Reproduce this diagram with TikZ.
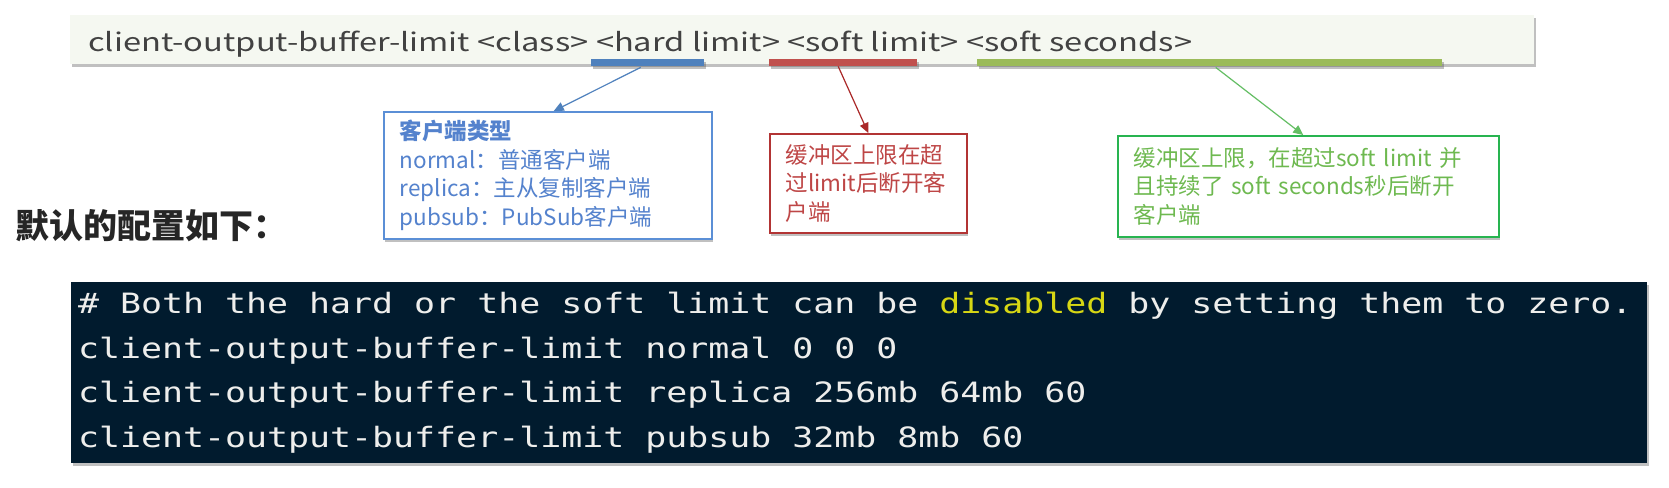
\documentclass[tikz,border=0pt]{standalone}
\usepackage{fontspec}
\usepackage{graphicx}
\usetikzlibrary{arrows.meta,shadows,calc}
\newfontfamily\cjk{Noto Sans CJK SC}
\newfontfamily\codefont[FakeStretch=1.246]{DejaVu Sans Mono}
\definecolor{topbg}{RGB}{245,248,241}
\definecolor{topgray}{RGB}{66,66,66}
\definecolor{barblue}{RGB}{79,129,189}
\definecolor{barred}{RGB}{192,80,77}
\definecolor{bargreen}{RGB}{155,187,89}
\definecolor{bluebd}{RGB}{91,143,214}
\definecolor{bluetx}{RGB}{84,130,205}
\definecolor{redbd}{RGB}{178,52,52}
\definecolor{redtx}{RGB}{190,70,70}
\definecolor{greenbd}{RGB}{40,180,80}
\definecolor{greentx}{RGB}{110,185,80}
\definecolor{arrblue}{RGB}{79,129,189}
\definecolor{arrred}{RGB}{170,40,40}
\definecolor{arrgreen}{RGB}{100,190,100}
\definecolor{codebg}{RGB}{1,27,46}
\definecolor{codefg}{RGB}{238,238,236}
\definecolor{dis}{RGB}{215,215,20}
\begin{document}
\begin{tikzpicture}[x=1pt,y=-1pt,
  shad/.style={drop shadow={shadow xshift=1.5pt,shadow yshift=-3pt,opacity=.35,fill=black!70}},
  topbox/.style={fill=topbg,draw=none,inner sep=0,anchor=north west,shad},
  bar/.style={draw=none,inner sep=0,minimum height=7,anchor=north west,shad},
  notebox/.style={fill=white,line width=1.5pt,align=left,inner xsep=16,inner ysep=0,anchor=north west,
    font=\cjk\fontsize{22.5}{28.5}\selectfont,shad},
  arr/.style={line width=1.2pt,-{Triangle[length=10pt,width=9pt]}},
  codebox/.style={fill=codebg,draw=none,inner sep=0,anchor=north west,shad},
  codeline/.style={anchor=base west,inner sep=0,text=codefg,font=\codefont\fontsize{28}{28}\selectfont}]
\useasboundingbox[fill=white] (0,0) rectangle (1669,487);

% command line box
\node[topbox,minimum width=1464,minimum height=49] (cmd) at (70,15) {};
\node[anchor=base west,inner sep=0,text=topgray] (cmdtext) at (88,52)
  {\resizebox{1104pt}{20.5pt}{\cjk client-output-buffer-limit <class> <hard limit> <soft limit> <soft seconds>}};

% underline bars
\node[bar,fill=barblue,minimum width=113] (hb) at (591,59) {};
\node[bar,fill=barred,minimum width=148] (sb) at (769,59) {};
\node[bar,fill=bargreen,minimum width=465] (gb) at (977,59) {};

% note boxes
\node[notebox,draw=bluebd,text=bluetx,text width=296,minimum height=127] (cls) at (383,111)
  {\mbox{\bfseries 客户端类型}\\\mbox{normal：普通客户端}\\\mbox{replica：主从复制客户端}\\\mbox{pubsub：PubSub客户端}};
\node[notebox,draw=redbd,text=redtx,text width=165,minimum height=99] (hard) at (769,133)
  {\mbox{缓冲区上限在超}\\\mbox{过limit后断开客}\\\mbox{户端}};
\node[notebox,draw=greenbd,text=greentx,text width=349,minimum height=101] (soft) at (1117,135)
  {\mbox{缓冲区上限，在超过soft limit 并}\\\mbox{且持续了 soft seconds秒后断开}\\\mbox{客户端}};

% connectors
\draw[arr,arrblue] ($(hb.south)+(-7,1)$) -- ($(cls.north)+(6,0)$);
\draw[arr,arrred] ($(sb.south)+(-5,0)$) -- ($(hard.north)+(0,0)$);
\draw[arr,arrgreen] ($(gb.south)+(6,1)$) -- ($(soft.north)+(-5,0)$);

% heading
\node[anchor=west,inner sep=0,font=\cjk\bfseries\fontsize{34}{34}\selectfont,text=black!85] (hd) at (15,226) {默认的配置如下：};

% code block
\node[codebox,minimum width=1576,minimum height=181] (code) at (71,282) {};
\node[codeline] (l1) at (78,313) {\# Both the hard or the soft limit can be \textcolor{dis}{disabled} by setting them to zero.};
\node[codeline] (l2) at (78,358) {client-output-buffer-limit normal 0 0 0};
\node[codeline] (l3) at (78,402) {client-output-buffer-limit replica 256mb 64mb 60};
\node[codeline] (l4) at (78,447) {client-output-buffer-limit pubsub 32mb 8mb 60};
\end{tikzpicture}
\end{document}
